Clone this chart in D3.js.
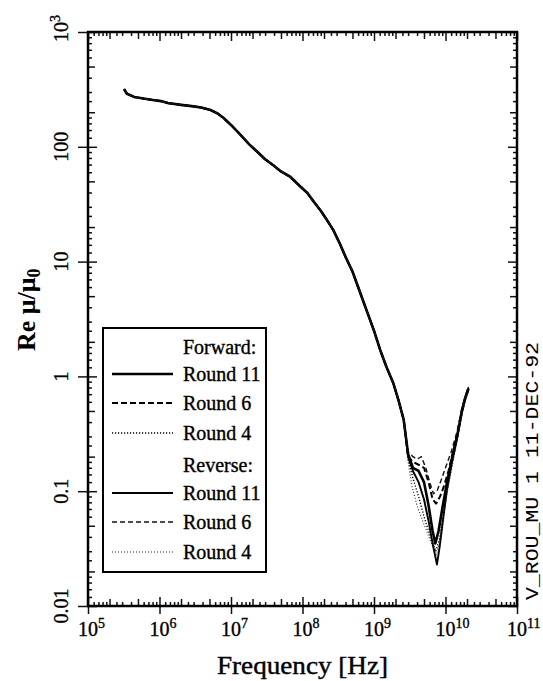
<!DOCTYPE html>
<html>
<head>
<meta charset="utf-8">
<script src="https://cdn.jsdelivr.net/npm/d3@7"></script>
<style>
  html, body { margin: 0; padding: 0; background: #fff; }
  svg { display: block; }
</style>
</head>
<body>
<svg id="chart" width="543" height="681"></svg>
<script>
// ---- Data: real part of relative permeability vs frequency ----

// Shared part of every run (all rounds coincide below ~2.6 GHz)
const commonFreq = [3.2e5, 3.5e5, 4.4e5, 6e5, 8e5, 1.05e6, 1.3e6, 2e6, 3e6, 3.8e6, 5.2e6, 6.5e6,
  7.9e6, 1.0e7, 1.36e7, 1.8e7, 2.35e7, 3.0e7, 3.9e7, 5e7, 6.8e7, 9e7, 1.17e8, 1.45e8, 1.78e8,
  2.2e8, 2.7e8, 3.3e8, 4e8, 5e8, 6e8, 7e8, 8.5e8, 1.0e9, 1.22e9, 1.5e9, 1.86e9, 2.2e9, 2.6e9];
const commonValues = [318, 290, 272, 263, 256, 250, 241, 232, 225, 220, 209, 195,
  178, 155, 127, 105, 90, 78, 69, 61, 54.6, 46, 39.6, 33, 28,
  23, 18.8, 14.5, 11, 8.2, 6.0, 4.6, 3.3, 2.5, 1.7, 1.2, 0.875, 0.62, 0.42];

// Resonance dip, per run
const fwd11Freq   = [3e9, 3.5e9, 4.2e9, 5e9, 5.8e9, 6.6e9, 7.2e9, 8e9, 9e9, 1.05e10, 1.25e10, 1.45e10, 1.7e10, 1.9e10, 2.1e10];
const fwd11Values = [0.21, 0.16, 0.15, 0.12, 0.075, 0.045, 0.035, 0.045, 0.07, 0.12, 0.2, 0.3, 0.5, 0.66, 0.78];

const fwd6Freq   = [3e9, 3.5e9, 4.2e9, 5e9, 5.8e9, 6.6e9, 7.4e9, 8.4e9, 9.5e9, 1.1e10, 1.25e10, 1.45e10, 1.7e10, 1.9e10, 2.1e10];
const fwd6Values = [0.2, 0.18, 0.17, 0.16, 0.12, 0.085, 0.078, 0.09, 0.11, 0.15, 0.21, 0.31, 0.52, 0.67, 0.8];

const fwd4Freq   = [3e9, 3.5e9, 4.2e9, 5e9, 5.8e9, 6.6e9, 7.3e9, 8.2e9, 9.2e9, 1.05e10, 1.25e10, 1.45e10, 1.7e10, 1.9e10, 2.1e10];
const fwd4Values = [0.19, 0.13, 0.09, 0.06, 0.045, 0.036, 0.03, 0.038, 0.058, 0.1, 0.18, 0.28, 0.48, 0.64, 0.76];

const rev11Freq   = [3e9, 3.5e9, 4.2e9, 5e9, 5.8e9, 6.6e9, 7.6e9, 8.3e9, 9.2e9, 1.05e10, 1.25e10, 1.45e10, 1.7e10, 1.9e10, 2.1e10];
const rev11Values = [0.2, 0.15, 0.12, 0.085, 0.055, 0.035, 0.023, 0.033, 0.055, 0.105, 0.19, 0.29, 0.5, 0.65, 0.79];

const rev6Freq   = [3e9, 3.5e9, 4e9, 4.6e9, 5.3e9, 6e9, 6.8e9, 7.6e9, 8.5e9, 1e10, 1.2e10, 1.45e10, 1.7e10, 1.9e10, 2.1e10];
const rev6Values = [0.22, 0.2, 0.19, 0.2, 0.16, 0.12, 0.095, 0.1, 0.12, 0.16, 0.22, 0.33, 0.53, 0.68, 0.81];

const rev4Freq   = [3e9, 3.4e9, 4e9, 4.8e9, 5.7e9, 6.6e9, 7.4e9, 8.3e9, 9.2e9, 1.05e10, 1.25e10, 1.45e10, 1.7e10, 1.9e10, 2.1e10];
const rev4Values = [0.18, 0.11, 0.075, 0.055, 0.042, 0.033, 0.028, 0.036, 0.058, 0.095, 0.17, 0.27, 0.47, 0.62, 0.74];

// Axis ticks
const xTickExponents = [5, 6, 7, 8, 9, 10, 11];
const yTickValues = [0.01, 0.1, 1, 10, 100, 1000];
const yTickLabels = ["0.01", "0.1", "1", "10", "100", "10^3"];
const minorSteps = [1.2, 1.4, 1.6, 1.8, 2, 2.5, 3, 4, 5, 6, 7, 8, 9];
const mediumSteps = [2, 5];

// Legend
const legendGroups = ["Forward:", "Reverse:"];
const legendRounds = ["Round 11", "Round 6", "Round 4"];

// ---- Build series ----
const build = (f, v) => commonFreq.map((d, i) => [d, commonValues[i]])
  .concat(f.map((d, i) => [d, v[i]]));

const series = [
  { key: "fwd11", data: build(fwd11Freq, fwd11Values), color: "#000", width: 2.6, dash: null },
  { key: "fwd6",  data: build(fwd6Freq,  fwd6Values),  color: "#000", width: 2.0, dash: "6,3" },
  { key: "fwd4",  data: build(fwd4Freq,  fwd4Values),  color: "#000", width: 1.4, dash: "1.2,1.8" },
  { key: "rev11", data: build(rev11Freq, rev11Values), color: "#000", width: 1.9, dash: null },
  { key: "rev6",  data: build(rev6Freq,  rev6Values),  color: "#111", width: 1.4, dash: "5,3" },
  { key: "rev4",  data: build(rev4Freq,  rev4Values),  color: "#222", width: 1.1, dash: "1,2" }
];

// ---- Layout ----
const svg = d3.select("#chart");
const plot = { left: 88, right: 517, top: 32, bottom: 606 };
const serif = "'Liberation Serif', 'Times New Roman', serif";

const x = d3.scaleLog().domain([1e5, 1e11]).range([plot.left, plot.right]);
const y = d3.scaleLog().domain([0.01, 1000]).range([plot.bottom, plot.top]);

const xMajor = xTickExponents.map(e => Math.pow(10, e));
const decadeMinors = (lo, hi, steps) => {
  const out = [];
  for (let d = lo; d < hi * 0.999; d *= 10) steps.forEach(s => out.push(d * s));
  return out;
};
const xMedium = decadeMinors(1e5, 1e11, mediumSteps);
const xShort = decadeMinors(1e5, 1e11, minorSteps.filter(s => !mediumSteps.includes(s)));
const yMedium = decadeMinors(0.01, 1000, mediumSteps);
const yShort = decadeMinors(0.01, 1000, minorSteps.filter(s => !mediumSteps.includes(s)));

function tickAxis(axis, values, size, tx, ty) {
  const g = svg.append("g")
    .attr("transform", `translate(${tx},${ty})`)
    .call(axis.tickValues(values).tickSize(size).tickFormat(""));
  g.select(".domain").remove();
  g.selectAll(".tick line").attr("stroke", "#111").attr("stroke-width", 1.5);
  return g;
}

// bottom axis
tickAxis(d3.axisBottom(x), xMajor, 8, 0, plot.bottom);
tickAxis(d3.axisBottom(x), xMajor, -9, 0, plot.bottom);
tickAxis(d3.axisBottom(x), xMedium, -7, 0, plot.bottom);
tickAxis(d3.axisBottom(x), xShort, -4, 0, plot.bottom);
// top axis
tickAxis(d3.axisTop(x), xMajor, -9, 0, plot.top);
tickAxis(d3.axisTop(x), xMedium, -7, 0, plot.top);
tickAxis(d3.axisTop(x), xShort, -4, 0, plot.top);
// left axis
tickAxis(d3.axisLeft(y), yTickValues, 10, plot.left, 0);
tickAxis(d3.axisLeft(y), yTickValues, -9, plot.left, 0);
tickAxis(d3.axisLeft(y), yMedium, -7, plot.left, 0);
tickAxis(d3.axisLeft(y), yShort, -4, plot.left, 0);
// right axis
tickAxis(d3.axisRight(y), yTickValues, -9, plot.right, 0);
tickAxis(d3.axisRight(y), yMedium, -7, plot.right, 0);
tickAxis(d3.axisRight(y), yShort, -4, plot.right, 0);

// frame
svg.append("rect")
  .attr("x", plot.left).attr("y", plot.top)
  .attr("width", plot.right - plot.left).attr("height", plot.bottom - plot.top)
  .attr("fill", "none").attr("stroke", "#000").attr("stroke-width", 2.5);

// x tick labels: 10 with superscript exponent
const xLabelSize = 20;
xTickExponents.forEach(e => {
  const t = svg.append("text")
    .attr("x", x(Math.pow(10, e)) - xLabelSize * 0.5)
    .attr("y", 636)
    .attr("font-family", serif).attr("font-size", xLabelSize)
    .attr("fill", "#000").attr("stroke", "#000").attr("stroke-width", 0.35);
  t.append("tspan").text("10");
  t.append("tspan").attr("dy", -8).attr("font-size", 14).text(String(e));
});

// y tick labels, rotated
yTickValues.forEach((v, i) => {
  const lab = yTickLabels[i];
  const g = svg.append("g").attr("transform", `translate(68,${y(v)}) rotate(-90)`);
  const t = g.append("text")
    .attr("font-family", serif).attr("font-size", xLabelSize)
    .attr("fill", "#000").attr("stroke", "#000").attr("stroke-width", 0.35);
  if (lab.includes("^")) {
    const [base, exp] = lab.split("^");
    t.attr("x", -xLabelSize * 0.5);
    t.append("tspan").text(base);
    t.append("tspan").attr("dy", -8).attr("font-size", 14).text(exp);
  } else {
    t.attr("text-anchor", "middle").text(lab);
  }
});

// axis titles
svg.append("text")
  .attr("x", 217).attr("y", 674)
  .attr("font-family", serif).attr("font-size", 25)
  .attr("textLength", 171).attr("lengthAdjust", "spacingAndGlyphs")
  .attr("fill", "#000").attr("stroke", "#000").attr("stroke-width", 0.4)
  .text("Frequency [Hz]");

const yt = svg.append("text")
  .attr("transform", "translate(35,351) rotate(-90)")
  .attr("font-family", serif).attr("font-size", 26).attr("font-weight", "bold")
  .attr("fill", "#000");
yt.append("tspan").text("Re μ/μ");
yt.append("tspan").attr("dy", 5).attr("font-size", 18).text("0");

// run stamp on the right margin
svg.append("text")
  .attr("transform", "translate(538,600) rotate(-90)")
  .attr("font-family", "'Liberation Mono', 'DejaVu Sans Mono', monospace")
  .attr("font-size", 19)
  .attr("textLength", 258).attr("lengthAdjust", "spacingAndGlyphs")
  .attr("fill", "#000")
  .text("V_ROU_MU 1 11-DEC-92");

// curves
const line = d3.line().x(d => x(d[0])).y(d => y(d[1]));
svg.append("g").selectAll("path")
  .data(series)
  .join("path")
  .attr("d", d => line(d.data))
  .attr("fill", "none")
  .attr("stroke", d => d.color)
  .attr("stroke-width", d => d.width)
  .attr("stroke-dasharray", d => d.dash)
  .attr("stroke-linejoin", "round");

// legend
const legend = { left: 103, top: 328, right: 266, bottom: 572 };
svg.append("rect")
  .attr("x", legend.left).attr("y", legend.top)
  .attr("width", legend.right - legend.left).attr("height", legend.bottom - legend.top)
  .attr("fill", "#fff").attr("stroke", "#000").attr("stroke-width", 2);

const rowY = [347, 374, 403, 433, 465, 493, 522, 552];
const legendRows = [];
legendGroups.forEach((g, gi) => {
  legendRows.push({ label: g, s: null });
  legendRounds.forEach((r, ri) => legendRows.push({ label: r, s: series[gi * 3 + ri] }));
});
legendRows.forEach((row, i) => {
  const cy = rowY[i];
  if (row.s) {
    svg.append("line")
      .attr("x1", 112).attr("x2", 173).attr("y1", cy).attr("y2", cy)
      .attr("stroke", row.s.color).attr("stroke-width", row.s.width)
      .attr("stroke-dasharray", row.s.dash);
  }
  svg.append("text")
    .attr("x", 183).attr("y", cy + 7)
    .attr("font-family", serif).attr("font-size", 20)
    .attr("fill", "#000").attr("stroke", "#000").attr("stroke-width", 0.35)
    .text(row.label);
});
</script>
</body>
</html>
